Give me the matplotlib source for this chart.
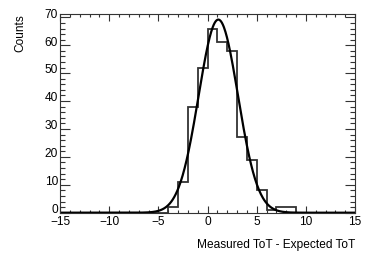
import numpy as np
import matplotlib.pyplot as plt
import matplotlib.transforms as mtransforms
from matplotlib.ticker import MultipleLocator

plt.rcParams['font.family'] = ['Liberation Sans', 'DejaVu Sans']

# histogram: bin edges and counts (bin width 1)
bin_edges = np.arange(-15, 16, 1)
counts = [0, 0, 0, 0, 0, 0, 0, 0, 0, 0, 0,
          2, 11, 38, 52, 66, 61, 58, 27, 19, 8, 1, 2, 2,
          0, 0, 0, 0, 0, 0]

# gaussian fit parameters
fit_amp = 69.2
fit_mean = 1.1
fit_sigma = 2.0

fig = plt.figure(figsize=(3.74, 2.54), dpi=100)
ax = fig.add_axes([60 / 374, 1 - 212.7 / 254, 295 / 374, 198.7 / 254])

ax.stairs(counts, bin_edges, color='#333333', linewidth=1.3)

xs = np.linspace(-15, 15, 600)
ax.plot(xs, fit_amp * np.exp(-0.5 * ((xs - fit_mean) / fit_sigma) ** 2),
        color='black', linewidth=1.6)

ax.set_xlim(-15, 15)
ax.set_ylim(0, 71.2)

ax.xaxis.set_major_locator(MultipleLocator(5))
ax.xaxis.set_minor_locator(MultipleLocator(1))
ax.yaxis.set_major_locator(MultipleLocator(10))
ax.yaxis.set_minor_locator(MultipleLocator(2))

ax.tick_params(which='both', direction='in', top=True, right=True,
               labelsize=8.6, width=0.8, color='#333333')
ax.tick_params(axis='x', which='major', length=5, pad=2.5)
ax.tick_params(axis='x', which='minor', length=2.5)
ax.tick_params(axis='y', which='major', length=7, pad=1.5)
ax.tick_params(axis='y', which='minor', length=3.5)

for s in ax.spines.values():
    s.set_linewidth(0.8)
    s.set_color('#333333')

# nudge y tick labels up a little like ROOT does
shift = mtransforms.ScaledTranslation(0, 3 / 72, fig.dpi_scale_trans)
for lab in ax.get_yticklabels():
    lab.set_transform(lab.get_transform() + shift)

ax.set_xlabel('Measured ToT - Expected ToT', fontsize=8.6, loc='right', labelpad=8)
ax.set_ylabel('Counts', fontsize=8.6, loc='top', labelpad=13)

fig.savefig('out.png', dpi=100)
